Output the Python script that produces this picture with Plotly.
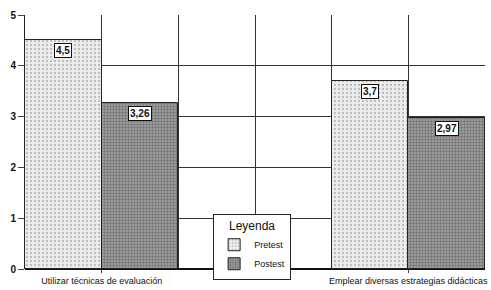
import plotly.graph_objects as go

categories = ["Utilizar técnicas de evaluación", "", "Emplear diversas estrategias didácticas"]
pretest = [4.5, None, 3.7]
postest = [3.26, None, 2.97]
label_pre = ["4,5", "", "3,7"]
label_post = ["3,26", "", "2,97"]
yticks = [0, 1, 2, 3, 4, 5]

FONT = "Arial, Liberation Sans, sans-serif"
idx = list(range(len(categories)))
xpre = [i - 0.25 for i in idx]
xpost = [i + 0.25 for i in idx]

fig = go.Figure()
fig.add_trace(go.Bar(
    name="Pretest", x=xpre, y=pretest, width=0.5,
    marker=dict(color="#e6e6e6", line=dict(color="#222", width=1),
                pattern=dict(shape=".", fgcolor="#8a8a8a", bgcolor="#ededed", size=4, solidity=0.25)),
))
fig.add_trace(go.Bar(
    name="Postest", x=xpost, y=postest, width=0.5,
    marker=dict(color="#888", line=dict(color="#222", width=1),
                pattern=dict(shape=".", fgcolor="#444", bgcolor="#a5a5a5", size=3, solidity=0.5)),
))

for xs, ys, labs in [(xpre, pretest, label_pre), (xpost, postest, label_post)]:
    for x, y, t in zip(xs, ys, labs):
        if y is None:
            continue
        fig.add_annotation(x=x, y=y, text="<b>" + t + "</b>", showarrow=False, xref="x", yref="y",
                           yanchor="top", yshift=-3,
                           font=dict(family=FONT, size=10, color="#111"),
                           bgcolor="white", bordercolor="#111", borderwidth=1, borderpad=1)

fig.update_layout(
    width=491, height=290,
    margin=dict(l=25, r=6, t=15, b=21, autoexpand=False),
    paper_bgcolor="white", plot_bgcolor="white",
    barmode="overlay", bargap=0,
    font=dict(family=FONT, color="#111"),
    showlegend=True,
    legend=dict(
        x=0.409, y=0.218, xanchor="left", yanchor="top",
        bgcolor="white", bordercolor="#222", borderwidth=1,
        title=dict(text="Leyenda", side="top center", font=dict(size=12, family=FONT)),
        font=dict(size=9, family=FONT),
        itemwidth=30, tracegroupgap=0,
    ),
    xaxis=dict(
        automargin=False,
        range=[-0.5, len(categories) - 0.5], tickvals=idx, ticktext=categories,
        tickfont=dict(size=9, family=FONT), ticks="outside", ticklen=3, tickcolor="#444",
        showgrid=False, zeroline=False, showline=False,
        minor=dict(dtick=0.5, tick0=-0.5, showgrid=True, gridcolor="#333", gridwidth=1),
    ),
    yaxis=dict(
        automargin=False,
        range=[0, 5], tickvals=yticks, ticktext=["<b>%d</b>" % v for v in yticks],
        tickfont=dict(size=10, family=FONT), ticks="outside", ticklen=6, tickcolor="#444",
        showgrid=True, gridcolor="#333", gridwidth=1,
        zeroline=True, zerolinecolor="#111", zerolinewidth=2,
        showline=True, linecolor="#222", linewidth=1,
    ),
)

fig.write_html("out.html", config={"displayModeBar": False},
               post_script="document.body.style.margin='0';")
